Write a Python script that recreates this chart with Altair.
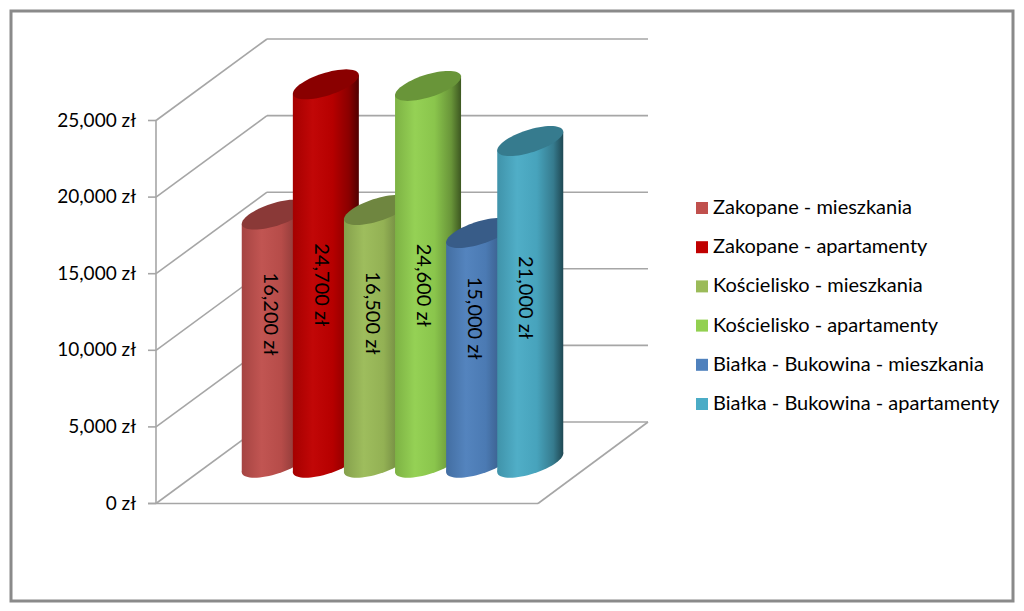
import math
import altair as alt
import pandas as pd

# ---------------- data ----------------
series = [
    "Zakopane - mieszkania",
    "Zakopane - apartamenty",
    "Kościelisko - mieszkania",
    "Kościelisko - apartamenty",
    "Białka - Bukowina - mieszkania",
    "Białka - Bukowina - apartamenty",
]
values = [16200, 24700, 16500, 24600, 15000, 21000]
labels = ["16,200 zł", "24,700 zł", "16,500 zł", "24,600 zł", "15,000 zł", "21,000 zł"]
tick_values = [0, 5000, 10000, 15000, 20000, 25000]
tick_labels = ["0 zł", "5,000 zł", "10,000 zł", "15,000 zł", "20,000 zł", "25,000 zł"]
palette = ["#C0504D", "#C00000", "#9BBB59", "#92D050", "#4F81BD", "#4BACC6"]

# ---------------- layout / style ----------------
PAD = 3
O = 8 + PAD                      # page offset of the view origin
W, H = 1024 - 2 * O, 611 - 2 * O + 1
PX_PER_UNIT = 383 / 25000.0      # vertical pixels per zł
ZERO_PX = 503.5 - O              # pixel row of the 0 zł level inside the view
Y_MAX = ZERO_PX / PX_PER_UNIT
Y_MIN = Y_MAX - H / PX_PER_UNIT
FRONT_X = 156 - O
FRONT_END = 538 - O
TICK_LEN = 8
DEPTH_X = 111
DEPTH_V = 81.5 / PX_PER_UNIT
BACK_END = 648 - O
STEP = 51.1
HALF_W = 33
TILT_V = 9.3 / PX_PER_UNIT
BASE_V = DEPTH_V / 2
LABEL_SHIFT = -5
FONT = "Lato"
GRID = "#a6a6a6"

xs = alt.Scale(domain=[0, W], nice=False, zero=False)
ys = alt.Scale(domain=[Y_MIN, Y_MAX], nice=False, zero=False)


def X(f):
    return alt.X(f, type="quantitative", scale=xs, axis=None)


def Y(f):
    return alt.Y(f, type="quantitative", scale=ys, axis=None)


def shade(hexc, f):
    h = hexc.lstrip("#")
    r, g, b = (int(h[i:i + 2], 16) for i in (0, 2, 4))
    if f <= 1:
        r, g, b = r * f, g * f, b * f
    else:
        t = f - 1
        r, g, b = r + (255 - r) * t, g + (255 - g) * t, b + (255 - b) * t
    return "#%02x%02x%02x" % (int(min(255, r)), int(min(255, g)), int(min(255, b)))


def body_grad(c):
    return alt.Gradient(
        gradient="linear", x1=0, x2=1, y1=0, y2=0,
        stops=[
            alt.GradientStop(offset=0.0, color=shade(c, 0.86)),
            alt.GradientStop(offset=0.3, color=shade(c, 1.03)),
            alt.GradientStop(offset=0.6, color=shade(c, 0.95)),
            alt.GradientStop(offset=0.85, color=shade(c, 0.72)),
            alt.GradientStop(offset=1.0, color=shade(c, 0.42)),
        ],
    )


# tilted ellipse (top of the cylinder in oblique projection)
pts = []
for k in range(64):
    t = 2 * math.pi * k / 64
    px = 0.785 * math.cos(t) + 0.618 * math.sin(t)
    py = -0.4545 * math.sin(t)
    pts.append("%.4f,%.4f" % (px, py))
ELLIPSE = "M" + " L".join(pts) + " Z"
ELL_SIZE = (2 * HALF_W) ** 2

# ---------------- walls ----------------
walls = pd.DataFrame({"v": tick_values})
walls["vb"] = walls["v"] + DEPTH_V

back = alt.Chart(walls).mark_rule(color=GRID, strokeWidth=1.6).encode(
    x=alt.value(FRONT_X + DEPTH_X), x2=alt.value(BACK_END), y=Y("vb"))
diag = alt.Chart(walls).mark_rule(color=GRID, strokeWidth=1.6).encode(
    x=alt.value(FRONT_X), x2=alt.value(FRONT_X + DEPTH_X), y=Y("v"), y2=alt.Y2("vb"))
ticks = alt.Chart(walls).mark_rule(color=GRID, strokeWidth=1.6).encode(
    x=alt.value(FRONT_X - TICK_LEN), x2=alt.value(FRONT_X), y=Y("v"))

edges = pd.DataFrame({"v": [0], "v2": [max(tick_values)], "vb": [DEPTH_V]})
axis_line = alt.Chart(edges).mark_rule(color=GRID, strokeWidth=1.6).encode(
    x=alt.value(FRONT_X), y=Y("v"), y2=alt.Y2("v2"))
floor_front = alt.Chart(edges).mark_rule(color=GRID, strokeWidth=1.6).encode(
    x=alt.value(FRONT_X - TICK_LEN), x2=alt.value(FRONT_END), y=Y("v"))
floor_right = alt.Chart(edges).mark_rule(color=GRID, strokeWidth=1.6).encode(
    x=alt.value(FRONT_END), x2=alt.value(BACK_END), y=Y("v"), y2=alt.Y2("vb"))

tick_df = pd.DataFrame({"v": tick_values, "t": tick_labels})
tick_text = alt.Chart(tick_df).mark_text(
    align="right", baseline="middle", font=FONT, fontSize=19, color="#000000"
).encode(x=alt.value(FRONT_X - 20), y=Y("v"), text="t:N")

layers = [back, diag, ticks, axis_line, floor_front, floor_right, tick_text]

# ---------------- cylinders ----------------
mid = (FRONT_X + FRONT_END) / 2 + DEPTH_X / 2
n = len(values)
centers = [mid + (i - (n - 1) / 2) * STEP for i in range(n)]

for i, (s, v, c) in enumerate(zip(series, values, palette)):
    cx = centers[i]
    cyl = pd.DataFrame({
        "x": [cx - HALF_W, cx + HALF_W],
        "lo": [BASE_V - TILT_V, BASE_V + TILT_V],
        "hi": [BASE_V + v - TILT_V, BASE_V + v + TILT_V],
    })
    pt = pd.DataFrame({"x": [cx], "b": [BASE_V], "t": [BASE_V + v]})
    bottom = alt.Chart(pt).mark_point(
        shape=ELLIPSE, size=ELL_SIZE, filled=True, opacity=1, strokeWidth=0,
        fill=body_grad(c)).encode(x=X("x"), y=Y("b"))
    body = alt.Chart(cyl).mark_area(fill=body_grad(c), opacity=1).encode(
        x=X("x"), y=Y("lo"), y2=alt.Y2("hi"))
    cap = alt.Chart(pt).mark_point(
        shape=ELLIPSE, size=ELL_SIZE, filled=True, opacity=1, strokeWidth=0,
        fill=shade(c, 0.72)).encode(x=X("x"), y=Y("t"))
    layers += [bottom, body, cap]

# ---------------- value labels ----------------
lab = pd.DataFrame({"x": [cx + LABEL_SHIFT for cx in centers], "v": values, "t": labels})
lab_text = alt.Chart(lab).transform_calculate(
    ly="8742 + 0.224 * datum.v"
).mark_text(angle=90, align="center", baseline="middle", font=FONT, fontSize=20,
            color="#000000").encode(
    x=X("x"), y=Y("ly"), text="t:N")
layers.append(lab_text)

# ---------------- legend ----------------
leg_df = pd.DataFrame({"s": series})
legend_layer = alt.Chart(leg_df).mark_square(opacity=0, size=1).encode(
    x=alt.value(0), y=alt.value(0),
    color=alt.Color(
        "s:N",
        scale=alt.Scale(domain=series, range=palette),
        sort=series,
        legend=alt.Legend(
            title=None, orient="none", legendX=695 - O - 3, legendY=198 - O,
            symbolType="square", symbolSize=144, symbolOpacity=1,
            symbolStrokeWidth=0, labelFont=FONT, labelFontSize=20,
            labelColor="#000000", rowPadding=19.2, labelOffset=1, padding=0,
            labelLimit=400,
        ),
    ),
)
layers.append(legend_layer)

chart = alt.layer(*layers).properties(
    width=W, height=H, padding=PAD,
    autosize=alt.AutoSizeParams(type="none"), background="white",
).configure_view(stroke="#8a8a8a", strokeWidth=3)

chart.save("out.html", embed_options={"renderer": "svg", "actions": False})
